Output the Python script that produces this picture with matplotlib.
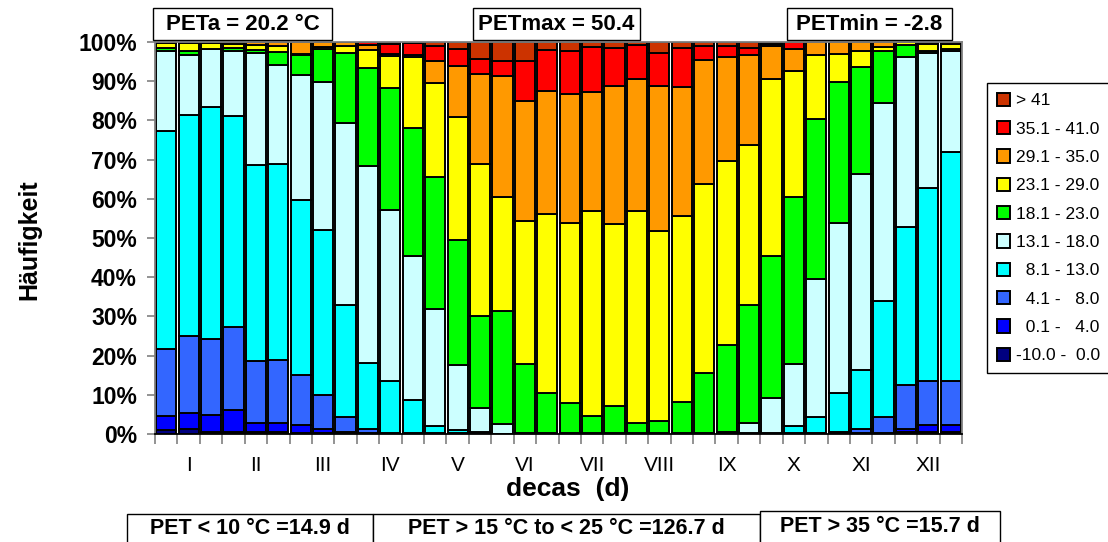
import matplotlib
matplotlib.use("Agg")
import matplotlib.pyplot as plt
from matplotlib.patches import Rectangle
from matplotlib.ticker import FixedLocator, PercentFormatter
import numpy as np

W, H = 1108, 542

# share of each PET class per decade (36 decades, %)
cls_neg10_0 = [1.0, 1.2, 0.5, 0.5, 0.4, 0.5, 0.3, 0.3, 0.2, 0.1, 0.3, 0.2, 0.2, 0.3, 0.4, 0.1, 0.2, 0.2,
               0.2, 0.2, 0.2, 0.2, 0.2, 0.2, 0.2, 0.6, 0.2, 0.2, 0.2, 0.2, 0.6, 0.2, 0.2, 0.4, 0.5, 0.5]
cls_0_4 = [3.7, 4.1, 4.4, 5.5, 2.3, 2.4, 2.1, 1.1, 0.2, 0.2, 0, 0, 0, 0, 0, 0, 0, 0,
           0, 0, 0, 0, 0, 0, 0, 0, 0, 0, 0, 0, 0, 0, 0, 0.8, 1.7, 1.7]
cls_4_8 = [16.9, 19.6, 19.3, 21.2, 15.8, 16.0, 12.6, 8.6, 3.9, 0.9, 0, 0, 0, 0, 0, 0, 0, 0,
           0, 0, 0, 0, 0, 0, 0, 0, 0, 0, 0, 0, 0, 1.2, 4.2, 11.2, 11.4, 11.4]
cls_8_13 = [55.6, 56.4, 59.1, 53.8, 50.0, 50.0, 44.7, 42.0, 28.7, 17.0, 13.1, 8.5, 1.8, 0.7, 0.2, 0, 0, 0,
            0, 0, 0, 0, 0, 0, 0, 0, 0, 0, 1.8, 4.2, 9.9, 14.8, 29.6, 40.3, 49.2, 58.3]
cls_13_18 = [20.4, 15.5, 14.8, 16.6, 28.8, 25.3, 31.8, 37.8, 46.3, 50.2, 43.7, 36.7, 29.8, 16.5, 6.0, 2.5, 0, 0,
             0, 0, 0, 0, 0, 0, 0, 0, 2.5, 9.0, 15.9, 35.2, 43.2, 50.0, 50.4, 43.4, 34.5, 25.7]
cls_18_23 = [0.8, 1.0, 0.2, 0.8, 0.6, 3.2, 5.1, 8.5, 17.8, 25.0, 31.2, 32.7, 33.7, 32.0, 23.5, 28.7, 17.7, 10.2,
             7.8, 4.4, 6.9, 2.5, 3.0, 8.0, 15.4, 22.0, 30.1, 36.2, 42.6, 40.8, 36.1, 27.3, 13.4, 3.2, 0.5, 0.7]
cls_23_29 = [1.4, 1.9, 1.4, 1.0, 1.4, 1.7, 0.4, 0.4, 1.9, 4.6, 8.1, 18.0, 24.0, 31.3, 38.9, 29.2, 36.4, 45.6,
             45.9, 52.4, 46.5, 54.3, 48.5, 47.4, 48.3, 47.1, 40.8, 45.1, 32.2, 16.4, 7.1, 4.3, 0.8, 0.7, 1.6, 1.2]
cls_29_35 = [0.2, 0.3, 0.3, 0.6, 0.7, 0.9, 2.9, 1.3, 1.0, 1.3, 0.6, 0.5, 5.6, 13.2, 22.8, 30.8, 30.7, 31.6,
             32.8, 30.2, 35.2, 33.5, 37.2, 33.0, 31.5, 26.6, 23.2, 8.6, 5.6, 3.2, 3.1, 2.2, 1.4, 0, 0.6, 0.5]
cls_35_41 = [0, 0, 0, 0, 0, 0, 0.1, 0, 0, 0.7, 2.6, 3.2, 4.0, 4.3, 3.9, 3.8, 10.2, 10.4,
             11.1, 11.4, 9.7, 8.8, 8.4, 9.9, 3.7, 2.7, 1.7, 0.3, 1.7, 0, 0, 0, 0, 0, 0, 0]
cls_gt41 = [0, 0, 0, 0, 0, 0, 0.1, 0, 0, 0, 0.4, 0.2, 0.9, 1.7, 4.3, 4.9, 4.8, 2.0,
            2.2, 1.4, 1.5, 0.7, 2.7, 1.5, 0.9, 1.0, 1.5, 0.6, 0, 0, 0, 0, 0, 0, 0, 0]

series = [cls_neg10_0, cls_0_4, cls_4_8, cls_8_13, cls_13_18,
          cls_18_23, cls_23_29, cls_29_35, cls_35_41, cls_gt41]
labels = ['-10.0 -  0.0', '  0.1 -   4.0', '  4.1 -   8.0', '  8.1 - 13.0', '13.1 - 18.0',
          '18.1 - 23.0', '23.1 - 29.0', '29.1 - 35.0', '35.1 - 41.0', '> 41']
colors = ['#000080', '#0000ff', '#3366ff', '#00ffff', '#ccffff',
          '#00ff00', '#ffff00', '#ff9900', '#ff0000', '#cc3300']
months = ['I', 'II', 'III', 'IV', 'V', 'VI', 'VII', 'VIII', 'IX', 'X', 'XI', 'XII']

top_notes = ['PETa = 20.2 °C', 'PETmax = 50.4', 'PETmin = -2.8']
bottom_notes = ['PET < 10 °C =14.9 d', 'PET > 15 °C to < 25 °C =126.7 d', 'PET > 35 °C =15.7 d']

plt.rcParams['font.family'] = ['Liberation Sans', 'DejaVu Sans']

fig = plt.figure(figsize=(W / 100, H / 100), dpi=100)
ax = fig.add_axes([155 / W, 1 - 434 / H, (962 - 155) / W, (434 - 42) / H])

x = np.arange(36)
bottom = np.zeros(36)
handles = []
for vals, lab, col in zip(series, labels, colors):
    v = np.array(vals, dtype=float)
    b = ax.bar(x, v, bottom=bottom, width=0.9, color=col, edgecolor='black',
               linewidth=1.4, label=lab)
    handles.append(b)
    bottom += v

ax.set_xlim(-0.5, 35.5)
ax.set_ylim(0, 100)
ax.yaxis.set_major_locator(FixedLocator(np.arange(0, 101, 10)))
ax.yaxis.set_major_formatter(PercentFormatter(decimals=0))
for t in ax.get_yticklabels():
    t.set_fontweight('bold')
    t.set_fontsize(16.5)
ax.tick_params(axis='y', length=6, width=1.2, color='#808080', pad=7)

ax.set_xticks(np.arange(-0.5, 36, 1), minor=True)
ax.set_xticks(np.arange(1, 36, 3))
ax.set_xticklabels(months, fontsize=15)
ax.tick_params(axis='x', which='major', length=0, pad=16)
ax.tick_params(axis='x', which='minor', length=7, width=1.2, color='#808080')

for s in ax.spines.values():
    s.set_color('#808080')
    s.set_linewidth(1.3)
ax.spines['bottom'].set_color('black')

fig.text(568 / W, 1 - 489 / H, 'decas  (d)', fontsize=19, fontweight='bold',
         ha='center', va='center')
fig.text(29 / W, 1 - 240 / H, 'Häufigkeit', fontsize=18, fontweight='bold',
         rotation=90, ha='center', va='center')

leg = fig.legend(handles[::-1], labels[::-1], loc='upper left',
                 bbox_to_anchor=(987 / W, 1 - 83 / H), fontsize=12.5,
                 frameon=True, fancybox=False, edgecolor='black', framealpha=1,
                 handlelength=0.8, handleheight=0.8, handletextpad=0.3,
                 labelspacing=0.73, borderpad=0.55, borderaxespad=0)
leg.get_frame().set_linewidth(1.0)


def note_box(x0, y0, x1, y1, text, size):
    fig.patches.append(Rectangle((x0 / W, 1 - y1 / H), (x1 - x0) / W, (y1 - y0) / H,
                                 transform=fig.transFigure, facecolor='white',
                                 edgecolor='black', linewidth=1.0, zorder=5))
    fig.text((x0 + x1) / 2 / W, 1 - (y0 + min(y1, H)) / 2 / H, text,
             fontweight='bold', fontsize=size, ha='center', va='center', zorder=6)


top_boxes = [(153, 8, 332, 40), (473, 8, 640, 40), (787, 8, 952, 40)]
for (x0, y0, x1, y1), txt in zip(top_boxes, top_notes):
    note_box(x0, y0, x1, y1, txt, 16)

bottom_boxes = [(127, 514, 373, 548), (373, 514, 760, 548), (760, 511, 1000, 548)]
for (x0, y0, x1, y1), txt in zip(bottom_boxes, bottom_notes):
    note_box(x0, y0, x1, y1, txt, 15.5)

fig.savefig('out.png', dpi=100)
